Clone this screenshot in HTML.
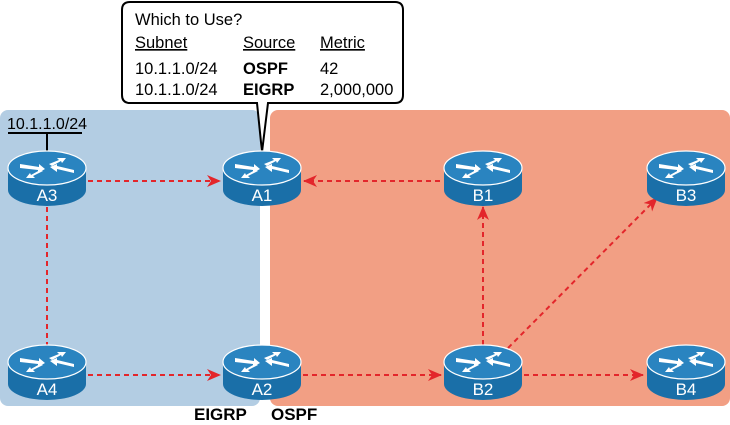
<!DOCTYPE html>
<html><head><style>
body{margin:0;background:#fff;}
svg{display:block;font-family:"Liberation Sans",Arial,sans-serif;}
</style></head><body>
<svg width="730" height="425" viewBox="0 0 730 425">
<defs>
<marker id="ar" markerWidth="14" markerHeight="12" refX="13" refY="6" orient="auto" markerUnits="userSpaceOnUse">
<path d="M0,0 L14,6 L0,12 L4,6 Z" fill="#e3262b"/>
</marker>
<g id="rt">
<path d="M-39,0 L-39,22 A39,16 0 0 0 39,22 L39,0 Z" fill="#1a6fa8"/>
<ellipse cx="0" cy="0" rx="39" ry="17" fill="#2a84c0" stroke="#fff" stroke-width="1.2"/>
<g fill="#fff">
<path d="M-27,-4 L-8,-1 L-8,-4 L-2,1 L-9,5 L-9,2 L-27,0Z"/>
<path d="M2,-4 L12,-8 L10,-10 L19,-10 L15,-5 L14,-7 L5,-2Z"/>
<path d="M27,5 L10,1 L10,4 L3,-1 L10,-4 L10,-2 L27,2Z"/>
<path d="M-4,3 L-14,8 L-12,10 L-21,10 L-17,5 L-16,7 L-7,2Z"/>
</g>
</g>
</defs>
<rect x="0" y="110" width="260" height="296" rx="8" fill="#b3cde3"/>
<rect x="270" y="110" width="460" height="296" rx="8" fill="#f29f84"/>
<line x1="8" y1="133" x2="82" y2="133" stroke="#000" stroke-width="2"/>
<line x1="47" y1="133" x2="47" y2="152" stroke="#000" stroke-width="2"/>
<text x="7" y="129" font-size="16">10.1.1.0/24</text>
<g stroke="#e3262b" stroke-width="2" stroke-dasharray="5,4" fill="none">
<line x1="88" y1="181" x2="220" y2="181" marker-end="url(#ar)"/>
<line x1="440" y1="181" x2="304" y2="181" marker-end="url(#ar)"/>
<line x1="88" y1="375" x2="220" y2="375" marker-end="url(#ar)"/>
<line x1="303" y1="375" x2="441" y2="375" marker-end="url(#ar)"/>
<line x1="524" y1="375" x2="643" y2="375" marker-end="url(#ar)"/>
<line x1="47" y1="207" x2="47" y2="345"/>
<line x1="483" y1="345" x2="483" y2="207" marker-end="url(#ar)"/>
<line x1="508" y1="348" x2="657" y2="198" marker-end="url(#ar)"/>
</g>
<path d="M130,2 H395 Q403,2 403,10 V95 Q403,103 395,103 H268 L262,152 L257,103 H130 Q122,103 122,95 V10 Q122,2 130,2 Z" fill="#fff" stroke="#000" stroke-width="2"/>
<g font-size="16.5">
<text x="135" y="25">Which to Use?</text>
<text x="135" y="48" text-decoration="underline">Subnet</text>
<text x="243" y="48" text-decoration="underline">Source</text>
<text x="320" y="48" text-decoration="underline">Metric</text>
<text x="135" y="74">10.1.1.0/24</text>
<text x="243" y="74" font-weight="bold">OSPF</text>
<text x="320" y="74">42</text>
<text x="135" y="95">10.1.1.0/24</text>
<text x="243" y="95" font-weight="bold">EIGRP</text>
<text x="320" y="95">2,000,000</text>
</g>
<g font-size="17" fill="#fff" text-anchor="middle">
<use href="#rt" x="47" y="168"/><text x="47" y="201">A3</text>
<use href="#rt" x="262" y="168"/><text x="262" y="201">A1</text>
<use href="#rt" x="483" y="168"/><text x="483" y="201">B1</text>
<use href="#rt" x="686" y="168"/><text x="686" y="201">B3</text>
<use href="#rt" x="47" y="362"/><text x="47" y="395">A4</text>
<use href="#rt" x="262" y="362"/><text x="262" y="395">A2</text>
<use href="#rt" x="483" y="362"/><text x="483" y="395">B2</text>
<use href="#rt" x="686" y="362"/><text x="686" y="395">B4</text>
</g>
<text x="194" y="420" font-size="17" font-weight="bold">EIGRP</text>
<text x="271" y="420" font-size="17" font-weight="bold">OSPF</text>
</svg>
</body></html>
